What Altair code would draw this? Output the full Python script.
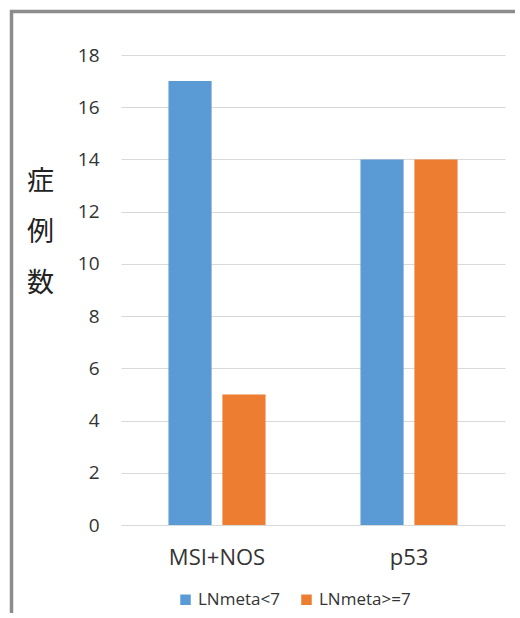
import altair as alt
import pandas as pd

categories = ["MSI+NOS", "MSI+NOS", "p53", "p53"]
groups = ["LNmeta<7", "LNmeta>=7", "LNmeta<7", "LNmeta>=7"]
values = [17, 5, 14, 14]
group_order = ["LNmeta<7", "LNmeta>=7"]
colors = ["#5B9BD5", "#ED7D31"]
y_ticks = [0, 2, 4, 6, 8, 10, 12, 14, 16, 18]

df = pd.DataFrame({"cat": categories, "grp": groups, "val": values})

FONT = "Open Sans"

bars = alt.Chart(df).mark_bar().encode(
    x=alt.X("cat:N", sort=["MSI+NOS", "p53"],
            scale=alt.Scale(paddingInner=0, paddingOuter=0),
            axis=alt.Axis(title=None, labelAngle=0, labelFontSize=22, labelColor="#333333",
                          labelFont=FONT, ticks=False, domain=False, grid=False, labelPadding=22)),
    xOffset=alt.XOffset("grp:N", sort=group_order,
                        scale=alt.Scale(paddingInner=0.2, paddingOuter=0.88)),
    y=alt.Y("val:Q", scale=alt.Scale(domain=[0, 18], nice=False),
            axis=alt.Axis(values=y_ticks, title=["症", "例", "数"], titleAngle=0,
                          titleFontSize=27, titleFont="Noto Sans CJK JP", titleFontWeight="normal",
                          titleColor="#222222", titleLineHeight=51, titleAlign="center",
                          titleBaseline="top", titleX=-81, titleY=113,
                          labelFontSize=19, labelColor="#333333", labelFont=FONT,
                          ticks=False, domain=False, labelPadding=22,
                          gridColor="#d9d9d9", gridWidth=1)),
    color=alt.Color("grp:N", sort=group_order,
                    scale=alt.Scale(domain=group_order, range=colors),
                    legend=alt.Legend(title=None, orient="none", direction="horizontal",
                                      legendX=56, legendY=536, symbolType="square",
                                      symbolSize=110, symbolStrokeWidth=0,
                                      labelFontSize=17, labelColor="#333333", labelFont=FONT,
                                      columnPadding=18, labelOffset=4)),
)

frame_left = alt.Chart(pd.DataFrame({"a": [0]})).mark_rule(color="#8c8c8c", strokeWidth=3.5).encode(
    x=alt.value(-109.5), y=alt.value(-45), y2=alt.value(600)
)
frame_top = alt.Chart(pd.DataFrame({"a": [0]})).mark_rule(color="#8c8c8c", strokeWidth=3.5).encode(
    x=alt.value(-111), x2=alt.value(420), y=alt.value(-43.5)
)

chart = alt.layer(bars, frame_left, frame_top).properties(
    width=384, height=470,
    autosize=alt.AutoSizeParams(type="none"),
    padding={"left": 121, "top": 55, "right": 10, "bottom": 88},
    background="white",
).configure_view(strokeWidth=0, stroke="transparent", strokeOpacity=0).configure_axisX(grid=False)

chart.save("out.html", embed_options={"renderer": "svg", "actions": False})
